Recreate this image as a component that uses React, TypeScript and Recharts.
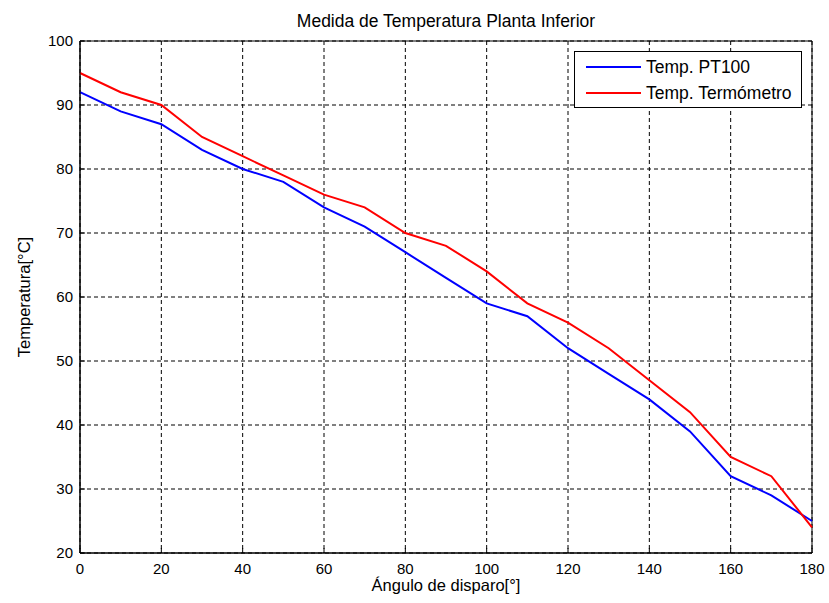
import { LineChart, Line, XAxis, YAxis, CartesianGrid, Legend, ReferenceArea } from 'recharts';

// Ángulo de disparo (°)
const angles = [0, 10, 20, 30, 40, 50, 60, 70, 80, 90, 100, 110, 120, 130, 140, 150, 160, 170, 180];
// Temp. PT100
const pt100 = [92, 89, 87, 83, 80, 78, 74, 71, 67, 63, 59, 57, 52, 48, 44, 39, 32, 29, 25];
// Temp. Termómetro
const termometro = [95, 92, 90, 85, 82, 79, 76, 74, 70, 68, 64, 59, 56, 52, 47, 42, 35, 32, 24];

const xTicks = [0, 20, 40, 60, 80, 100, 120, 140, 160, 180];
const yTicks = [20, 30, 40, 50, 60, 70, 80, 90, 100];

const data = angles.map((a, i) => ({ angle: a, pt100: pt100[i], termometro: termometro[i] }));

const FONT = '"Liberation Sans", Arial, sans-serif';

const LegendBox = () => (
  <div
    style={{
      border: '1px solid #000',
      background: '#fff',
      width: 226,
      height: 55,
      fontFamily: FONT,
      fontSize: 17.5,
      color: '#000',
      boxSizing: 'content-box',
    }}
  >
    {[
      { name: 'Temp. PT100', color: '#0000ff' },
      { name: 'Temp. Termómetro', color: '#ff0000' },
    ].map((it, i) => (
      <div key={i} style={{ display: 'flex', alignItems: 'center', height: 26, marginTop: i === 0 ? 2 : 0 }}>
        <div style={{ marginLeft: 11, width: 55, height: 2, background: it.color }} />
        <span style={{ marginLeft: 5 }}>{it.name}</span>
      </div>
    ))}
  </div>
);

const App = () => {
  return (
    <div style={{ position: 'absolute', left: 0, top: 0, background: '#fff' }}>
      <LineChart width={829} height={603} data={data} margin={{ top: 41, right: 17, bottom: 0, left: 0 }}>
        <CartesianGrid stroke="#000" strokeDasharray="4 3" strokeWidth={1} />
        <ReferenceArea
          x1={0}
          x2={180}
          y1={20}
          y2={100}
          fill="none"
          fillOpacity={0}
          stroke="#000"
          strokeWidth={1}
          ifOverflow="visible"
          label={{ value: 'Medida de Temperatura Planta Inferior', position: 'top', offset: 14, fill: '#000', fontSize: 17.5, fontFamily: FONT }}
        />
        <XAxis
          dataKey="angle"
          type="number"
          domain={[0, 180]}
          ticks={xTicks}
          height={50}
          stroke="#000"
          tickSize={-5}
          tickMargin={15}
          tick={{ fill: '#000', fontSize: 15, fontFamily: FONT }}
          label={{ value: 'Ángulo de disparo[°]', position: 'insideBottom', offset: 12, fill: '#000', fontSize: 16.5, fontFamily: FONT }}
        />
        <XAxis
          xAxisId="top"
          dataKey="angle"
          type="number"
          domain={[0, 180]}
          ticks={xTicks}
          orientation="top"
          height={0}
          stroke="#000"
          tickSize={-5}
          tickFormatter={() => ''}
        />
        <YAxis
          type="number"
          domain={[20, 100]}
          ticks={yTicks}
          width={80}
          stroke="#000"
          tickSize={-5}
          tickMargin={12}
          tick={{ fill: '#000', fontSize: 15, fontFamily: FONT }}
          label={{ value: 'Temperatura[°C]', angle: -90, position: 'insideLeft', offset: 24, fill: '#000', fontSize: 16.5, fontFamily: FONT, style: { textAnchor: 'middle' } }}
        />
        <YAxis
          yAxisId="right"
          type="number"
          domain={[20, 100]}
          ticks={yTicks}
          orientation="right"
          width={0}
          stroke="#000"
          tickSize={-5}
          tickFormatter={() => ''}
        />
        <Legend
          layout="vertical"
          align="center"
          verticalAlign="middle"
          content={() => <LegendBox />}
          wrapperStyle={{ left: 574, top: 51, right: 'auto', bottom: 'auto', width: 'auto', height: 'auto' }}
        />
        <Line type="linear" dataKey="pt100" name="Temp. PT100" stroke="#0000ff" strokeWidth={2} dot={false} isAnimationActive={false} />
        <Line type="linear" dataKey="termometro" name="Temp. Termómetro" stroke="#ff0000" strokeWidth={2} dot={false} isAnimationActive={false} />
      </LineChart>
    </div>
  );
};

export default App;
